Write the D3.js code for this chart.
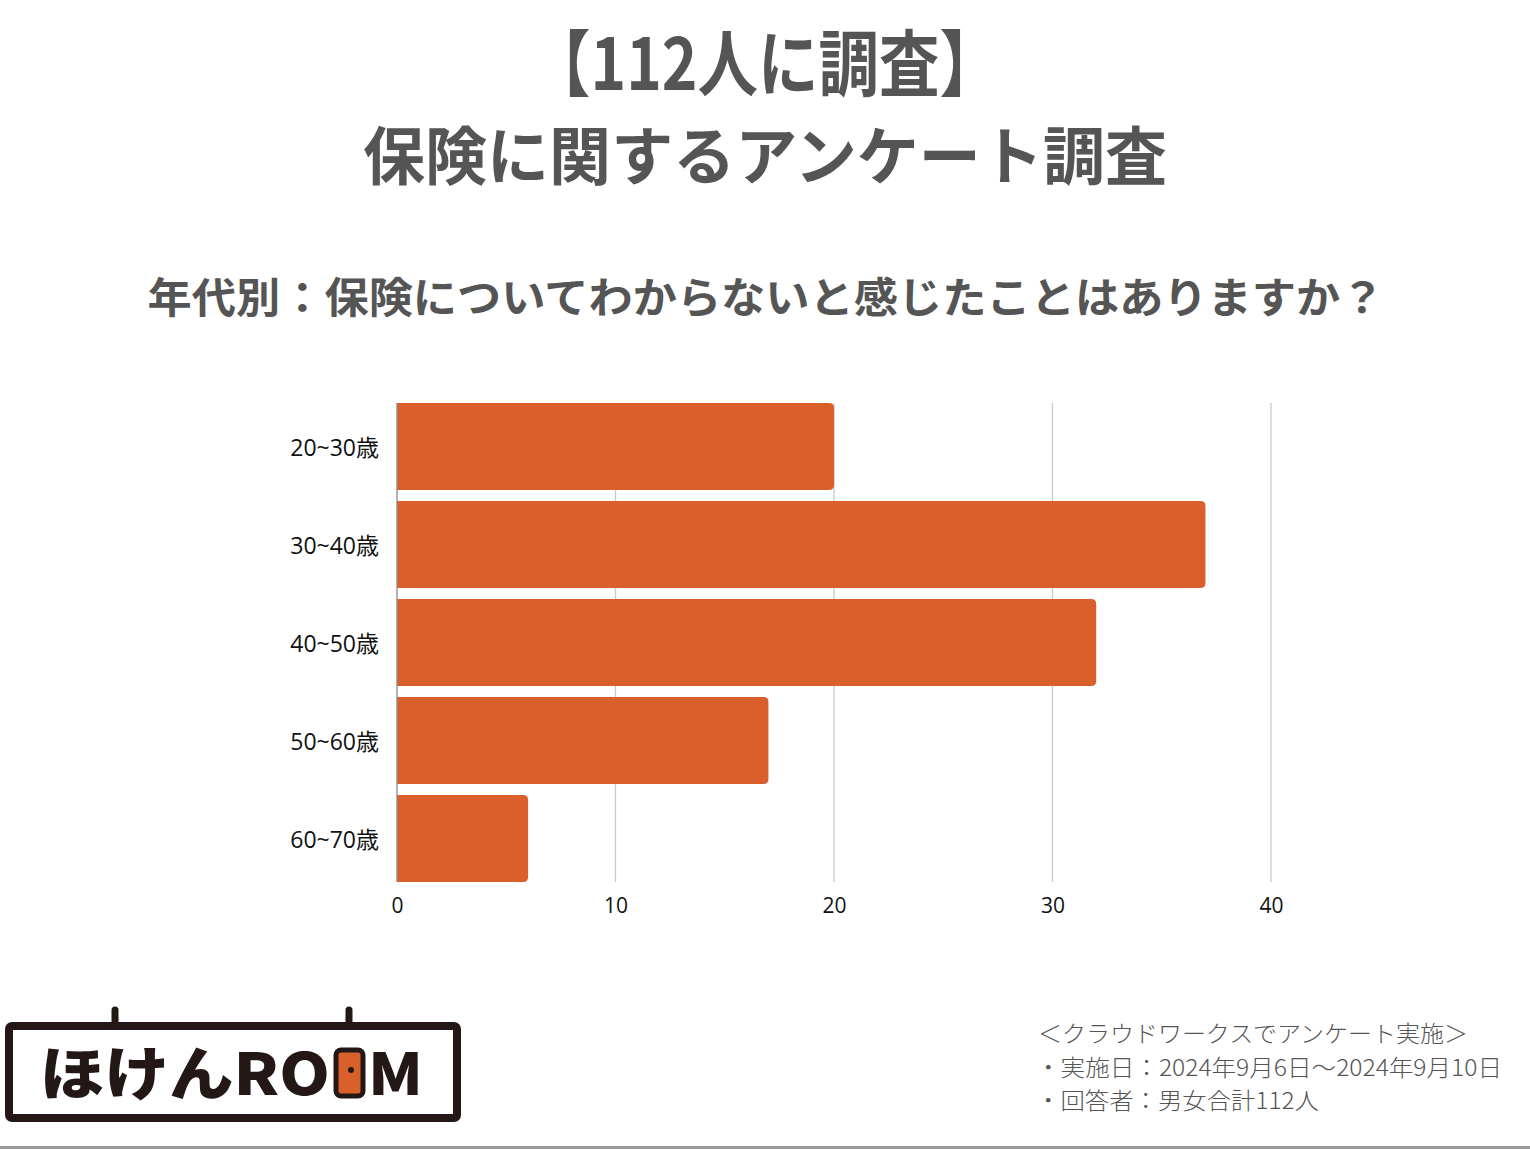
<!DOCTYPE html>
<html>
<head>
<meta charset="utf-8">
<script src="https://cdn.jsdelivr.net/npm/d3@7"></script>
<style>
  body { margin: 0; background: #fff; }
  svg { display: block; }
</style>
</head>
<body>
<script>
const categories = ["20~30歳", "30~40歳", "40~50歳", "50~60歳", "60~70歳"];
const values = [20, 37, 32, 17, 6];
const xTicks = [0, 10, 20, 30, 40];
const titleLines = ["【112人に調査】", "保険に関するアンケート調査"];
const subtitle = "年代別：保険についてわからないと感じたことはありますか？";
const notes = ["＜クラウドワークスでアンケート実施＞", "・実施日：2024年9月6日〜2024年9月10日", "・回答者：男女合計112人"];

const width = 1530, height = 1150;
const barColor = "#d95f2b";
const cjk = "'Noto Sans CJK JP', 'Noto Sans', sans-serif";
const latin = "'Open Sans', 'Noto Sans CJK JP', sans-serif";

const svg = d3.select("body")
    .append("svg")
    .attr("width", width)
    .attr("height", height);

// titles
svg.append("text")
    .attr("x", 765).attr("y", 90)
    .attr("text-anchor", "middle")
    .attr("font-family", cjk).attr("font-weight", 700)
    .attr("font-size", 72).attr("fill", "#555")
    .attr("textLength", 470).attr("lengthAdjust", "spacingAndGlyphs")
    .text(titleLines[0]);

svg.append("text")
    .attr("x", 765).attr("y", 179)
    .attr("text-anchor", "middle")
    .attr("font-family", cjk).attr("font-weight", 700)
    .attr("font-size", 63).attr("fill", "#555")
    .attr("textLength", 804).attr("lengthAdjust", "spacingAndGlyphs")
    .text(titleLines[1]);

svg.append("text")
    .attr("x", 766).attr("y", 313)
    .attr("text-anchor", "middle")
    .attr("font-family", cjk).attr("font-weight", 700)
    .attr("font-size", 42).attr("fill", "#555")
    .attr("textLength", 1237).attr("lengthAdjust", "spacingAndGlyphs")
    .text(subtitle);

// chart
const x = d3.scaleLinear().domain([0, 40]).range([397, 1271]);
const y = d3.scaleBand().domain(categories).range([403, 882]).paddingInner(0.112).paddingOuter(0);

svg.append("g")
    .selectAll("line")
    .data(xTicks.filter(d => d > 0))
    .join("line")
    .attr("x1", d => x(d)).attr("x2", d => x(d))
    .attr("y1", 403).attr("y2", 882)
    .attr("stroke", "#c8c8c8").attr("stroke-width", 1.3);

const r = 5;
svg.append("g")
    .selectAll("path")
    .data(categories)
    .join("path")
    .attr("fill", barColor)
    .attr("d", (c, i) => {
        const x0 = x(0), x1 = x(values[i]), y0 = y(c), y1 = y(c) + y.bandwidth();
        return `M${x0},${y0}H${x1 - r}Q${x1},${y0} ${x1},${y0 + r}V${y1 - r}Q${x1},${y1} ${x1 - r},${y1}H${x0}Z`;
    });

svg.append("line")
    .attr("x1", x(0)).attr("x2", x(0))
    .attr("y1", 403).attr("y2", 882)
    .attr("stroke", "#888").attr("stroke-width", 1.3);

const xAxis = svg.append("g")
    .attr("transform", "translate(0,882)")
    .call(d3.axisBottom(x).tickValues(xTicks).tickSize(0).tickPadding(16));
xAxis.select(".domain").remove();
xAxis.selectAll("text")
    .attr("font-family", latin).attr("font-size", 21).attr("fill", "#111");

const yAxis = svg.append("g")
    .attr("transform", "translate(397,0)")
    .call(d3.axisLeft(y).tickSize(0).tickPadding(18));
yAxis.select(".domain").remove();
yAxis.selectAll("text")
    .attr("font-family", latin).attr("font-size", 23).attr("fill", "#111")
    .attr("dy", "0.4em");

// notes
svg.append("g")
    .selectAll("text")
    .data(notes)
    .join("text")
    .attr("x", (d, i) => i === 0 ? 1038 : 1036)
    .attr("y", (d, i) => 1042 + i * 33.5)
    .attr("font-family", cjk).attr("font-weight", 300)
    .attr("font-size", 23).attr("fill", "#555")
    .attr("textLength", (d, i) => [430, 466, 283][i])
    .attr("lengthAdjust", "spacingAndGlyphs")
    .text(d => d);

// logo
const logo = svg.append("g");
const dark = "#231815";
logo.append("rect")
    .attr("x", 9).attr("y", 1026).attr("width", 448).attr("height", 92)
    .attr("rx", 3).attr("fill", "none")
    .attr("stroke", dark).attr("stroke-width", 8);
[115, 349].forEach(hx => {
    logo.append("line")
        .attr("x1", hx).attr("x2", hx).attr("y1", 1010).attr("y2", 1026)
        .attr("stroke", dark).attr("stroke-width", 7).attr("stroke-linecap", "round");
});
logo.append("text")
    .attr("x", 40).attr("y", 1095)
    .attr("font-family", cjk).attr("font-weight", 900)
    .attr("font-size", 58).attr("fill", dark)
    .attr("textLength", 290).attr("lengthAdjust", "spacingAndGlyphs")
    .text("ほけんRO");
logo.append("rect")
    .attr("x", 336).attr("y", 1050).attr("width", 27).attr("height", 46)
    .attr("rx", 5).attr("fill", barColor)
    .attr("stroke", dark).attr("stroke-width", 5);
logo.append("circle")
    .attr("cx", 351).attr("cy", 1070).attr("r", 3).attr("fill", dark);
logo.append("text")
    .attr("x", 368).attr("y", 1095)
    .attr("font-family", cjk).attr("font-weight", 900)
    .attr("font-size", 58).attr("fill", dark)
    .attr("textLength", 55).attr("lengthAdjust", "spacingAndGlyphs")
    .text("M");

// bottom rule
svg.append("line")
    .attr("x1", 0).attr("x2", width).attr("y1", 1147.5).attr("y2", 1147.5)
    .attr("stroke", "#9a9a9a").attr("stroke-width", 3);
</script>
</body>
</html>
